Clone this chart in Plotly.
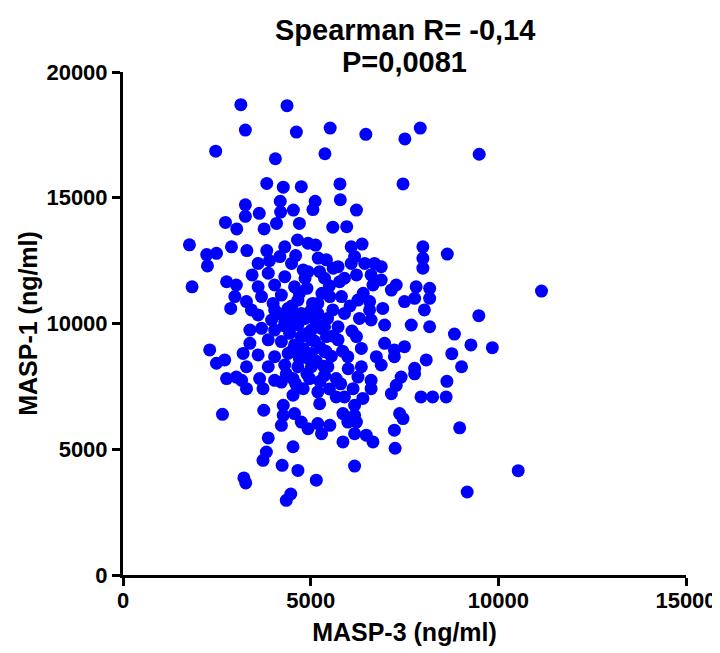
import plotly.graph_objects as go

# MASP-3 (x) and MASP-1 (y), ng/ml
masp3 = [
    3140, 4370, 3260, 4620, 2470, 4060, 3830, 4270, 4750, 3260, 4190, 3260, 3630, 4200, 4540, 2730, 4090, 4700, 3030, 3760,
    5520, 6470, 7510, 7920, 5380, 5780, 7460, 5120, 5790, 5060, 6220, 5590, 5960,
    9490,
    1770, 2890, 3300, 2230, 2490, 2250, 3830, 4310, 4650, 4180, 3600, 4490, 4800, 3440, 3870, 4310, 1840, 2760, 3020, 3600,
    4040, 4570, 2980, 3290, 3690, 4220, 4660, 2870, 3420, 3600, 4040, 4400, 4750, 3960, 4310, 4660, 3380, 3690, 4040, 4440,
    4750, 3870, 4220, 4570, 3380, 2310, 3200, 3600, 4040, 4400, 4750, 2490, 2710, 3290, 3870, 4310, 4660,
    4930, 5130, 6080, 6370, 7990, 6170, 7990, 7990, 5420, 5730, 6080, 6440, 6700, 6880, 4930, 5240, 5370, 5770, 6220, 6610,
    6880, 6660, 7280, 7150, 7810, 8170, 5510, 5820, 6260, 6570, 7500, 7770, 8170, 5190, 5190, 5590, 5900, 6920, 6570, 8030,
    4930, 6610, 6970, 7680, 8170, 5020, 5370, 5730, 5020, 5420, 5730, 6220, 6350, 6970, 7500, 7230, 7230, 8080, 5020, 5370,
    5990, 6750, 5020, 5460, 6350, 6880, 7770,
    8640, 11150, 9480, 8830, 9270, 9840, 8760, 9020,
    2760, 3020, 3290, 3640, 3730, 4040, 4220, 4530, 4530, 4800, 3160, 2650, 3750, 4270, 4270, 4570, 4750, 4220, 3870, 4530,
    3820, 3730, 4240, 4660, 3220, 3270, 4470, 4350,
    4970, 5370, 5680, 6260, 6610, 7410, 7770, 5190, 5680, 5900, 6130, 6610, 6390, 7280, 7150, 7940, 8250, 5240, 6170, 5860,
    6170, 7370, 7460, 5190, 5510, 5990, 6220, 4930, 5290, 6170, 6480, 6660, 5860, 7230, 7250, 6170, 5150,
    8630, 8610, 8970, 10530, 9170,
    4850, 5000, 5150, 5300, 5450, 4900, 5100, 5250, 5400, 4800, 4950, 5150, 5350, 4600, 4450, 4300, 4150, 4000, 4500, 4700,
    4900, 5050, 5300, 5500, 4850, 5600, 5550, 4700, 4500, 4350, 4600, 4900, 5250, 5500, 5800, 6000, 5850, 6100, 6300, 6050,
    6400, 5900, 5600, 5200, 4600, 3900,
]
masp1 = [
    18700, 18660, 17690, 17610, 16850, 16550, 15570, 15420, 15440, 14720, 14860, 14260, 14380, 14430, 14510, 14020, 13980, 13980, 13760, 13760,
    17770, 17520, 17340, 17770, 16750, 15550, 15550, 14860, 14920, 14530, 14510, 13830, 13850,
    16730,
    13130, 13050, 12900, 12740, 12790, 12290, 12900, 13050, 13320, 12660, 12390, 12390, 12130, 11930, 12000, 11860, 11460, 11660, 11530, 11460,
    11530, 11460, 11070, 10870, 11070, 11130, 10930, 10600, 10540, 10340, 10540, 10600, 10400, 10140, 10070, 9940, 9740, 9810, 9740, 9610,
    9480, 9350, 9280, 9150, 9210, 8950, 8810, 8750, 8680, 8810, 8750, 8420, 8550, 8280, 8280, 8350, 8280,
    13190, 13120, 13050, 13160, 13050, 12660, 12590, 12200, 12530, 12260, 12390, 12390, 12390, 12260, 12060, 12060, 11800, 11660, 11930, 11930,
    11730, 11530, 11530, 11330, 11460, 11400, 11070, 11070, 10930, 10870, 10870, 11000, 11000, 10800, 10400, 10540, 10400, 10600, 10540, 10540,
    10270, 10140, 9940, 9940, 9870, 9740, 9870, 9870, 9350, 9480, 9350, 9480, 9010, 9210, 9080, 8950, 8680, 8550, 8810, 8880,
    8680, 8680, 8280, 8280, 8280, 8350, 8220,
    12760, 11290, 10310, 9580, 9150, 9040, 8800, 8280,
    7810, 7870, 7410, 7810, 7410, 7740, 7670, 7810, 7150, 7410, 7740, 6390, 6550, 6750, 6350, 6420, 6080, 5950, 5450, 5100,
    4890, 4560, 4360, 4160, 3860, 3660, 3220, 2970,
    7810, 7940, 7810, 7870, 7740, 7870, 8000, 7280, 7080, 7080, 7410, 7410, 7020, 7540, 7210, 7080, 7080, 6810, 6750, 6420,
    6350, 6420, 6220, 6020, 5950, 6080, 6080, 5820, 5620, 5620, 5560, 5290, 5290, 5760, 5040, 4330, 3770,
    7700, 7080, 5850, 4150, 3300,
    10200, 10500, 10000, 9800, 10200, 9600, 9300, 9050, 8900, 9000, 8600, 8500, 8300, 10000, 10300, 9900, 10400, 10800, 10700, 11200,
    11400, 10800, 11200, 11500, 11800, 9500, 8700, 8600, 8900, 8000, 7600, 8000, 7700, 7400, 7600, 8200, 8900, 9700, 10200, 10700,
    11200, 11800, 12200, 12600, 12700, 12500,
]

x_ticks = [0, 5000, 10000, 15000]
y_ticks = [0, 5000, 10000, 15000, 20000]
title_lines = ["Spearman R= -0,14", "P=0,0081"]

FONT = "Liberation Sans, Arial, sans-serif"

fig = go.Figure()
fig.add_trace(go.Scatter(
    x=masp3, y=masp1, mode="markers",
    marker=dict(color="#0000FF", size=13, line=dict(width=0)),
    showlegend=False, hoverinfo="x+y",
))

axis_common = dict(
    showgrid=False, zeroline=False, showline=True, linecolor="black", linewidth=3,
    ticks="outside", tickwidth=3, ticklen=8, tickcolor="black", automargin=False,
    tickfont=dict(family=FONT, size=22, color="black", weight="bold"),
)
fig.update_xaxes(range=[0, 15000], tickvals=x_ticks, ticktext=[str(v) for v in x_ticks],
                 title=dict(text="<b>MASP-3 (ng/ml)</b>", font=dict(family=FONT, size=25, color="black"), standoff=12),
                 **axis_common)
fig.update_yaxes(range=[0, 20000], tickvals=y_ticks, ticktext=[str(v) for v in y_ticks],
                 title=dict(text="<b>MASP-1 (ng/ml)</b>", font=dict(family=FONT, size=25, color="black"), standoff=2),
                 **axis_common)
try:
    fig.update_xaxes(ticklabelstandoff=-4)
except Exception:
    pass

# two title lines as annotations (paper coords: plot top at 1.0)
for txt, yy in zip(title_lines, [1.0835, 1.0199]):
    fig.add_annotation(text=f"<b>{txt}</b>", x=0.5, y=yy, xref="paper", yref="paper",
                       xanchor="center", yanchor="middle", showarrow=False,
                       font=dict(family=FONT, size=29, color="black"))

# page body has an 8px margin, so shift the figure up/left by 8px
fig.update_layout(
    width=720, height=653,
    margin=dict(l=115, r=42, t=64, b=86),
    plot_bgcolor="white", paper_bgcolor="white",
)

fig.write_html("out.html")
